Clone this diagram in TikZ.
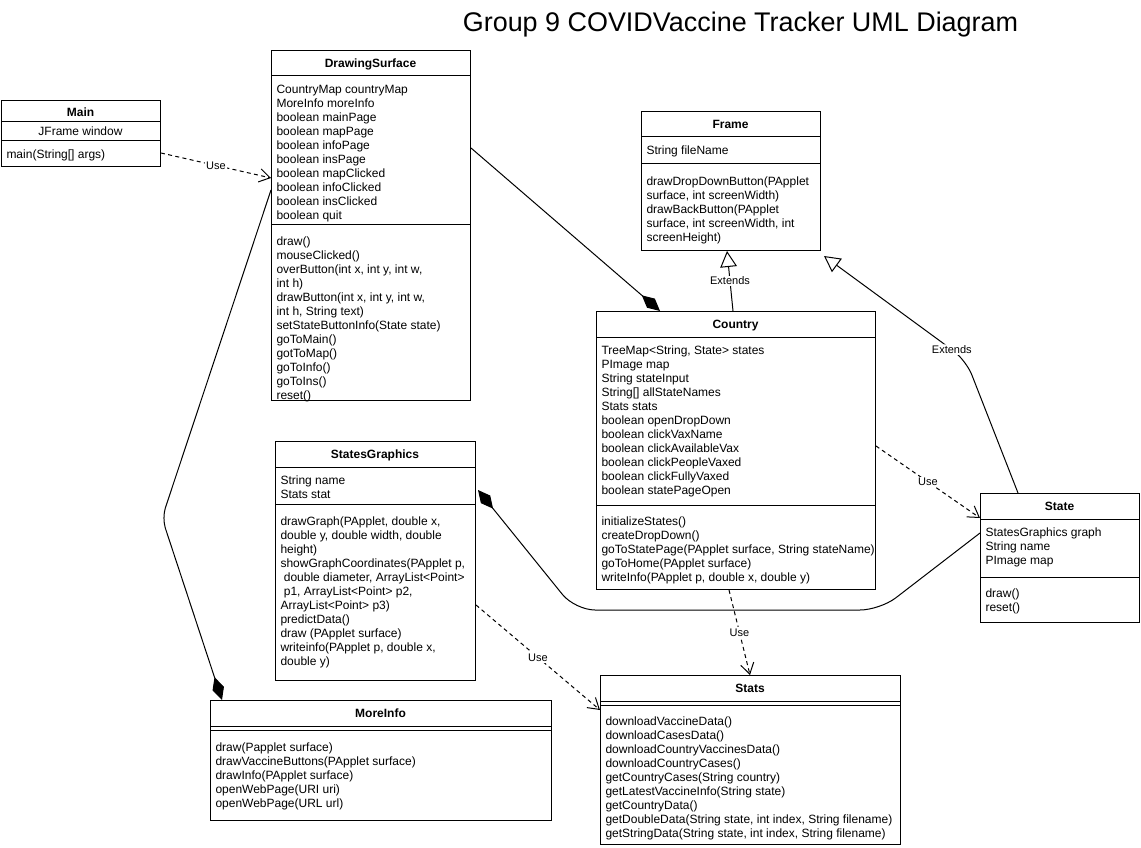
\documentclass[tikz,border=0pt]{standalone}
\usepackage{fontspec}
\setmainfont{Liberation Sans}
\usetikzlibrary{arrows.meta,calc}
\newdimen\pxu \pxu=0.75pt
\begin{document}
\begin{tikzpicture}[x=0.75pt,y=-0.75pt,
  line width=0.75pt,
  classbox/.style={draw, anchor=north west, inner sep=0pt, fill=white},
  ttl/.style={anchor=base, inner sep=0pt, font=\fontsize{9}{10.5}\selectfont\bfseries},
  ctr/.style={anchor=base, inner sep=0pt, font=\fontsize{9}{10.5}\selectfont},
  txt/.style={anchor=north west, inner sep=0pt, align=left, font=\fontsize{9}{10.5}\selectfont},
  lbl/.style={fill=white, inner sep=1pt, font=\fontsize{8.25}{10}\selectfont},
  usearrow/.style={dash pattern=on 3pt off 2.5pt, -{Straight Barb[length=8pt,width=10pt]}},
  extarrow/.style={-{Triangle[open,length=12pt,width=12.5pt]}},
  comparrow/.style={-{Diamond[length=18pt,width=9pt]}},
]
\useasboundingbox (0,0) rectangle (1141,848);

\node[font=\fontsize{20.2}{24}\selectfont, anchor=base, inner sep=0pt] (title) at (740.5,31.5) {Group 9 COVIDVaccine Tracker UML Diagram};

% Main
\node[classbox, minimum width=159\pxu, minimum height=66\pxu] (main) at (1,100) {};
\draw (main.north west) ++(0,22) -- ++(159,0);
\draw (main.north west) ++(0,41) -- ++(159,0);
\node[ttl] (mainT) at (80.5,116.5) {Main};
\node[ctr] (mainA) at (80.5,135.3) {JFrame window};
\node[txt] (mainM) at (6,148.5) {\strut main(String[] args)};

% DrawingSurface
\node[classbox, minimum width=199\pxu, minimum height=350\pxu] (ds) at (271,50) {};
\draw (ds.north west) ++(0,26) -- ++(199,0);
\draw (ds.north west) ++(0,175) -- ++(199,0);
\node[ttl] (dsT) at (370.5,67.3) {DrawingSurface};
\node[txt] (dsA) at (276,83.5) {\strut CountryMap countryMap\\MoreInfo moreInfo\\boolean mainPage\\boolean mapPage\\boolean infoPage\\boolean insPage\\boolean mapClicked\\boolean infoClicked\\boolean insClicked\\boolean quit};
\node[txt] (dsM) at (276,235.5) {\strut draw()\\mouseClicked()\\overButton(int x, int y, int w,\\int h)\\drawButton(int x, int y, int w,\\int h, String text)\\setStateButtonInfo(State state)\\goToMain()\\gotToMap()\\goToInfo()\\goToIns()\\reset()};

% Frame
\node[classbox, minimum width=179\pxu, minimum height=139\pxu] (frame) at (641,111) {};
\draw (frame.north west) ++(0,26) -- ++(179,0);
\draw (frame.north west) ++(0,53) -- ++(179,0);
\node[ttl] (frameT) at (730.5,128.3) {Frame};
\node[txt] (frameA) at (646,144.5) {\strut String fileName};
\node[txt] (frameM) at (646,175.5) {\strut drawDropDownButton(PApplet\\surface, int screenWidth)\\drawBackButton(PApplet\\surface, int screenWidth, int\\screenHeight)};

% Country
\node[classbox, minimum width=279\pxu, minimum height=278\pxu] (country) at (596,311) {};
\draw (country.north west) ++(0,26) -- ++(279,0);
\draw (country.north west) ++(0,194) -- ++(279,0);
\node[ttl] (countryT) at (735.5,328.3) {Country};
\node[txt] (countryA) at (601,344.5) {\strut TreeMap<String, State> states\\PImage map\\String stateInput\\String[] allStateNames\\Stats stats\\boolean openDropDown\\boolean clickVaxName\\boolean clickAvailableVax\\boolean clickPeopleVaxed\\boolean clickFullyVaxed\\boolean statePageOpen};
\node[txt] (countryM) at (601,515.5) {\strut initializeStates()\\createDropDown()\\goToStatePage(PApplet surface, String stateName)\\goToHome(PApplet surface)\\writeInfo(PApplet p, double x, double y)};

% State
\node[classbox, minimum width=159\pxu, minimum height=129\pxu] (state) at (980,493) {};
\draw (state.north west) ++(0,26) -- ++(159,0);
\draw (state.north west) ++(0,84) -- ++(159,0);
\node[ttl] (stateT) at (1059.5,510.3) {State};
\node[txt] (stateA) at (985,526.5) {\strut StatesGraphics graph\\String name\\PImage map};
\node[txt] (stateM) at (985,587.5) {\strut draw()\\reset()};

% StatesGraphics
\node[classbox, minimum width=200\pxu, minimum height=239\pxu] (sg) at (275,441) {};
\draw (sg.north west) ++(0,26) -- ++(200,0);
\draw (sg.north west) ++(0,63) -- ++(200,0);
\node[ttl] (sgT) at (375,458.3) {StatesGraphics};
\node[txt] (sgA) at (280,474.5) {\strut String name\\Stats stat};
\node[txt] (sgM) at (280,515.5) {\strut drawGraph(PApplet, double x,\\double y, double width, double\\height)\\showGraphCoordinates(PApplet p,\\\ double diameter, ArrayList<Point>\\\ p1, ArrayList<Point> p2,\\ArrayList<Point> p3)\\predictData()\\draw (PApplet surface)\\writeinfo(PApplet p, double x,\\double y)};

% MoreInfo
\node[classbox, minimum width=341\pxu, minimum height=120\pxu] (mi) at (210,700) {};
\draw (mi.north west) ++(0,26) -- ++(341,0);
\draw (mi.north west) ++(0,30) -- ++(341,0);
\node[ttl] (miT) at (380.5,717.3) {MoreInfo};
\node[txt] (miM) at (215,741.5) {\strut draw(Papplet surface)\\drawVaccineButtons(PApplet surface)\\drawInfo(PApplet surface)\\openWebPage(URI uri)\\openWebPage(URL url)};

% Stats
\node[classbox, minimum width=300\pxu, minimum height=169\pxu] (stats) at (600,675) {};
\draw (stats.north west) ++(0,26) -- ++(300,0);
\draw (stats.north west) ++(0,30) -- ++(300,0);
\node[ttl] (statsT) at (750,692.3) {Stats};
\node[txt] (statsM) at (605,715.5) {\strut downloadVaccineData()\\downloadCasesData()\\downloadCountryVaccinesData()\\downloadCountryCases()\\getCountryCases(String country)\\getLatestVaccineInfo(String state)\\getCountryData()\\getDoubleData(String state, int index, String filename)\\getStringData(String state, int index, String filename)};

% Connectors
\draw[usearrow] ($(main.north east)+(0,53)$) -- node[lbl]{Use} ($(ds.north west)+(0,128)$);
\draw[comparrow] ($(ds.north east)+(0,98)$) -- ($(country.north west)+(64,0)$);
\coordinate (bendA) at (162,518);
\draw[comparrow, rounded corners=8pt] ($(ds.north west)+(0,140)$) -- (bendA) -- ($(mi.north west)+(12,0)$);
\draw[extarrow] ($(country.north west)+(137,0)$) -- node[lbl]{Extends} ($(frame.south west)+(86,0)$);
\coordinate (bendB) at (966,360);
\draw[extarrow, rounded corners=12pt] ($(state.north west)+(38,0)$) -- (bendB) -- node[lbl,pos=0.1]{Extends} ($(frame.south east)+(3,5)$);
\draw[usearrow] ($(country.north east)+(0,135)$) -- node[lbl]{Use} ($(state.north west)+(0,25)$);
\draw[usearrow] ($(country.south west)+(133,0)$) -- node[lbl]{Use} ($(stats.north west)+(150,0)$);
\draw[usearrow] ($(sg.north east)+(0,164)$) -- node[lbl]{Use} ($(stats.north west)+(0,35)$);
\coordinate (bendC) at (880,610);
\coordinate (bendD) at (575,610);
\draw[comparrow, rounded corners=15pt] ($(state.north west)+(0,40)$) -- (bendC) -- (bendD) -- ($(sg.north east)+(2,49)$);
\end{tikzpicture}
\end{document}
